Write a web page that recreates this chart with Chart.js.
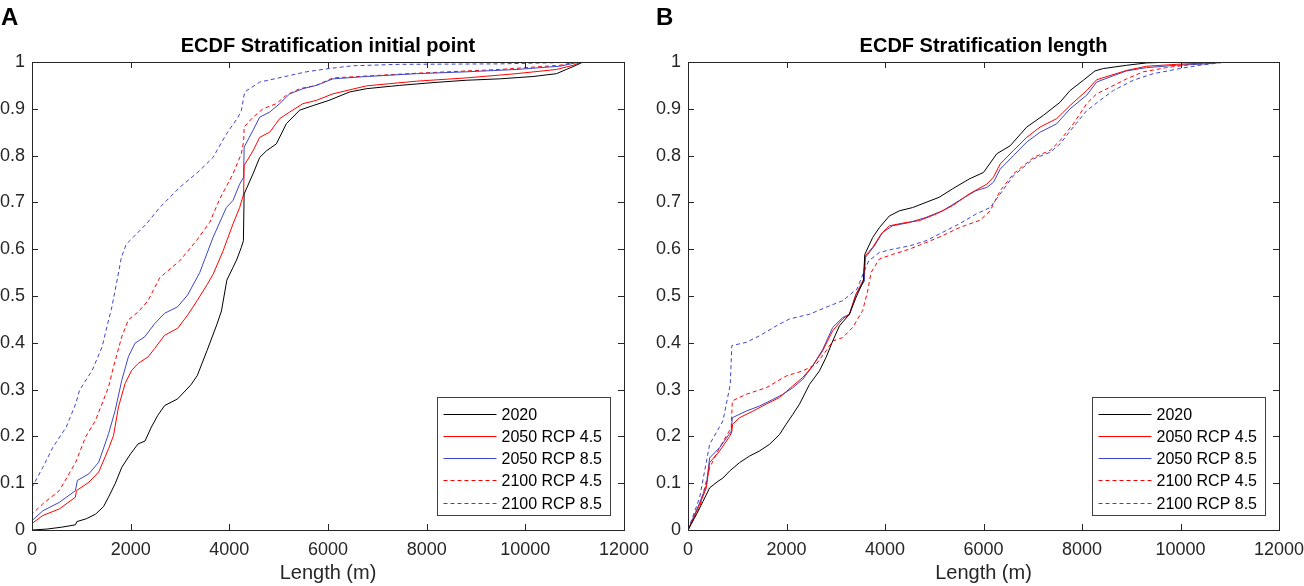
<!DOCTYPE html>
<html>
<head>
<meta charset="utf-8">
<script src="https://cdn.jsdelivr.net/npm/chart.js@4.4.1/dist/chart.umd.min.js"></script>
<style>
  body { margin: 0; background: #fff; }
  #wrap { position: relative; width: 1304px; height: 586px; }
  canvas { position: absolute; top: 0; }
  #chartA { left: 0; }
  #chartB { left: 652px; }
</style>
</head>
<body>
<div id="wrap">
  <canvas id="chartA" width="652" height="586"></canvas>
  <canvas id="chartB" width="652" height="586"></canvas>
</div>
<script>
// series names and styles
var seriesLabels = ['2020', '2050 RCP 4.5', '2050 RCP 8.5', '2100 RCP 4.5', '2100 RCP 8.5'];
var xTickLabels = ['0', '2000', '4000', '6000', '8000', '10000', '12000'];

// A: stratification initial point
var xA2020 = [0, 300, 600, 880, 910, 1100, 1290, 1450, 1550, 1690, 1820, 2000, 2150, 2290, 2420, 2550, 2690, 2950, 3220, 3350, 3550, 3750, 3840, 3950, 4074, 4155, 4243, 4285, 4300, 4480, 4615, 4750, 4953, 5155, 5425, 5700, 6020, 6440, 6780, 7450, 8130, 8800, 9480, 10155, 10630, 10830, 11030, 11170];
var yA2020 = [0, 0.002, 0.006, 0.011, 0.018, 0.024, 0.034, 0.05, 0.07, 0.1, 0.134, 0.163, 0.184, 0.19, 0.22, 0.245, 0.266, 0.28, 0.31, 0.33, 0.384, 0.44, 0.468, 0.534, 0.561, 0.579, 0.604, 0.618, 0.718, 0.761, 0.796, 0.81, 0.825, 0.868, 0.897, 0.907, 0.918, 0.936, 0.943, 0.95, 0.956, 0.961, 0.964, 0.969, 0.975, 0.984, 0.993, 1];
var xA2050a = [0, 0, 220, 553, 880, 900, 1153, 1353, 1553, 1653, 1753, 1887, 2020, 2153, 2353, 2487, 2687, 2953, 3153, 3353, 3553, 3669, 3872, 4074, 4209, 4290, 4300, 4480, 4615, 4818, 5020, 5223, 5493, 5764, 6100, 6780, 7790, 8800, 9810, 10630, 10970, 11140];
var yA2050a = [0, 0.014, 0.031, 0.045, 0.07, 0.084, 0.102, 0.124, 0.174, 0.202, 0.263, 0.313, 0.341, 0.356, 0.37, 0.388, 0.416, 0.431, 0.459, 0.491, 0.525, 0.546, 0.596, 0.654, 0.689, 0.718, 0.779, 0.81, 0.839, 0.85, 0.879, 0.893, 0.911, 0.918, 0.932, 0.949, 0.959, 0.966, 0.975, 0.984, 0.993, 1];
var xA2050b = [0, 0, 220, 553, 880, 920, 1153, 1353, 1553, 1687, 1820, 1953, 2087, 2287, 2487, 2687, 2953, 3153, 3400, 3669, 3939, 4074, 4209, 4290, 4300, 4480, 4615, 4818, 5020, 5223, 5493, 5764, 6100, 6780, 7790, 8800, 9810, 10700, 11100];
var yA2050b = [0, 0.02, 0.041, 0.059, 0.084, 0.106, 0.12, 0.145, 0.206, 0.256, 0.32, 0.37, 0.399, 0.413, 0.441, 0.463, 0.477, 0.502, 0.55, 0.625, 0.689, 0.704, 0.739, 0.754, 0.818, 0.854, 0.882, 0.893, 0.911, 0.932, 0.943, 0.95, 0.964, 0.969, 0.975, 0.979, 0.984, 0.991, 1];
var xA2100a = [0, 0, 220, 553, 887, 1087, 1287, 1553, 1653, 1820, 1953, 2153, 2353, 2588, 2993, 3331, 3601, 3804, 4074, 4243, 4290, 4300, 4480, 4682, 4953, 5155, 5425, 5764, 6100, 7790, 9480, 10700, 11030];
var yA2100a = [0, 0.034, 0.056, 0.084, 0.145, 0.199, 0.234, 0.306, 0.349, 0.413, 0.449, 0.466, 0.49, 0.539, 0.575, 0.618, 0.657, 0.707, 0.761, 0.804, 0.83, 0.861, 0.882, 0.9, 0.911, 0.929, 0.943, 0.95, 0.966, 0.976, 0.984, 0.993, 1];
var xA2100b = [0, 0, 220, 425, 695, 887, 965, 1220, 1420, 1553, 1608, 1709, 1811, 1912, 2047, 2318, 2588, 2993, 3399, 3669, 3939, 4176, 4243, 4311, 4615, 5088, 5561, 6020, 6500, 7450, 9480, 10830, 11100];
var yA2100b = [0, 0.091, 0.134, 0.177, 0.22, 0.27, 0.299, 0.341, 0.391, 0.449, 0.471, 0.525, 0.582, 0.611, 0.625, 0.654, 0.689, 0.732, 0.768, 0.796, 0.846, 0.882, 0.896, 0.936, 0.957, 0.968, 0.979, 0.986, 0.992, 0.995, 0.996, 0.999, 1];

// B: stratification length
var xB2020 = [0, 169, 304, 439, 608, 709, 845, 1047, 1250, 1453, 1655, 1858, 1993, 2128, 2264, 2466, 2669, 2804, 2939, 3074, 3277, 3412, 3561, 3590, 3750, 3885, 4088, 4291, 4561, 4831, 5101, 5372, 5709, 6000, 6270, 6541, 6878, 7216, 7554, 7757, 8027, 8264, 8432, 8905, 9311, 9851];
var yB2020 = [0, 0.033, 0.061, 0.09, 0.104, 0.111, 0.126, 0.144, 0.158, 0.169, 0.183, 0.204, 0.226, 0.247, 0.269, 0.311, 0.34, 0.369, 0.404, 0.436, 0.461, 0.497, 0.532, 0.589, 0.625, 0.646, 0.671, 0.682, 0.689, 0.7, 0.711, 0.729, 0.75, 0.764, 0.804, 0.821, 0.861, 0.886, 0.914, 0.939, 0.961, 0.981, 0.986, 0.993, 0.998, 1];
var xB2050a = [0, 236, 372, 439, 642, 845, 890, 905, 1047, 1318, 1588, 1858, 2128, 2331, 2534, 2736, 2939, 3142, 3277, 3412, 3561, 3600, 3750, 3919, 4088, 4426, 4696, 5034, 5372, 5709, 6068, 6203, 6338, 6608, 6878, 7149, 7487, 7757, 8095, 8297, 8568, 8905, 9311, 9919, 10527, 10865];
var yB2050a = [0, 0.054, 0.09, 0.144, 0.169, 0.2, 0.21, 0.226, 0.24, 0.254, 0.269, 0.283, 0.308, 0.326, 0.351, 0.383, 0.426, 0.451, 0.461, 0.504, 0.535, 0.586, 0.604, 0.632, 0.65, 0.657, 0.661, 0.675, 0.693, 0.718, 0.739, 0.754, 0.782, 0.811, 0.839, 0.861, 0.879, 0.907, 0.939, 0.962, 0.971, 0.982, 0.991, 0.995, 0.998, 1];
var xB2050b = [0, 236, 372, 439, 642, 878, 900, 1182, 1453, 1723, 1926, 2128, 2331, 2534, 2736, 2939, 3142, 3277, 3412, 3581, 3600, 3784, 3953, 4155, 4493, 4831, 5169, 5507, 5845, 6068, 6203, 6338, 6608, 6878, 7149, 7487, 7757, 8095, 8297, 8568, 8905, 9311, 9919, 10527, 10932];
var yB2050b = [0, 0.058, 0.095, 0.154, 0.176, 0.211, 0.24, 0.254, 0.265, 0.279, 0.29, 0.304, 0.322, 0.351, 0.386, 0.433, 0.454, 0.461, 0.504, 0.532, 0.582, 0.607, 0.636, 0.65, 0.657, 0.668, 0.682, 0.704, 0.725, 0.732, 0.743, 0.771, 0.8, 0.829, 0.85, 0.868, 0.9, 0.929, 0.957, 0.968, 0.981, 0.988, 0.993, 0.996, 1];
var xB2100a = [0, 236, 439, 642, 878, 900, 1182, 1588, 1993, 2331, 2601, 2804, 2939, 3142, 3345, 3547, 3649, 3716, 3885, 4155, 4493, 4831, 5169, 5507, 5932, 6135, 6338, 6608, 7014, 7351, 7554, 7824, 8095, 8297, 8568, 8905, 9243, 9716, 10257, 10662, 10932];
var yB2100a = [0, 0.047, 0.133, 0.176, 0.219, 0.276, 0.29, 0.304, 0.329, 0.34, 0.354, 0.383, 0.404, 0.411, 0.433, 0.469, 0.511, 0.55, 0.579, 0.589, 0.6, 0.614, 0.629, 0.646, 0.662, 0.682, 0.725, 0.761, 0.796, 0.811, 0.832, 0.868, 0.911, 0.932, 0.946, 0.964, 0.979, 0.988, 0.995, 0.998, 1];
var xB2100b = [0, 236, 439, 709, 858, 890, 1182, 1453, 1791, 2061, 2466, 2804, 3142, 3432, 3581, 3669, 3885, 4155, 4493, 4831, 5169, 5507, 5845, 6135, 6338, 6608, 7014, 7351, 7554, 7824, 8095, 8365, 8635, 9041, 9446, 9986, 10392, 10932];
var yB2100b = [0, 0.069, 0.183, 0.233, 0.311, 0.394, 0.401, 0.415, 0.436, 0.451, 0.461, 0.476, 0.49, 0.515, 0.554, 0.575, 0.593, 0.6, 0.607, 0.618, 0.636, 0.654, 0.675, 0.689, 0.718, 0.757, 0.793, 0.807, 0.825, 0.861, 0.896, 0.918, 0.939, 0.961, 0.975, 0.986, 0.993, 1];

var FONT = "'Liberation Sans', Arial, Helvetica, sans-serif";
var AXIS = '#262626';
var RED = '#ff0000';
var BLUE = '#3c46c8';
var styles = [
  { color: '#000000', dash: [] },
  { color: RED, dash: [] },
  { color: BLUE, dash: [] },
  { color: RED, dash: [4, 3] },
  { color: BLUE, dash: [4, 3] }
];

function pts(xs, ys) {
  return xs.map(function(x, i) { return { x: x, y: ys[i] }; });
}

// matlab style box, inward ticks, letter and legend
var matlabBox = {
  id: 'matlabBox',
  afterDraw: function(chart, args, opts) {
    var ctx = chart.ctx, ca = chart.chartArea;
    var xs = chart.scales.x, ys = chart.scales.y;
    ctx.save();
    ctx.strokeStyle = AXIS;
    ctx.lineWidth = 1;
    ctx.strokeRect(Math.round(ca.left) + 0.5, Math.round(ca.top) + 0.5,
                   Math.round(ca.right - ca.left), Math.round(ca.bottom - ca.top));
    ctx.beginPath();
    xs.ticks.forEach(function(t) {
      var px = Math.round(xs.getPixelForValue(t.value)) + 0.5;
      ctx.moveTo(px, ca.bottom); ctx.lineTo(px, ca.bottom - 6);
      ctx.moveTo(px, ca.top); ctx.lineTo(px, ca.top + 6);
    });
    ys.ticks.forEach(function(t) {
      var py = Math.round(ys.getPixelForValue(t.value)) + 0.5;
      ctx.moveTo(ca.left, py); ctx.lineTo(ca.left + 6, py);
      ctx.moveTo(ca.right, py); ctx.lineTo(ca.right - 6, py);
    });
    ctx.stroke();

    // panel letter
    ctx.fillStyle = '#000';
    ctx.font = 'bold 24px ' + FONT;
    ctx.textBaseline = 'alphabetic';
    ctx.textAlign = 'left';
    ctx.fillText(opts.letter, opts.letterX, 25);

    // legend box
    var w = 173, h = 118;
    var bx = Math.round(ca.right - 14 - w) + 0.5, by = Math.round(ca.bottom - 15 - h) + 0.5;
    ctx.fillStyle = '#fff';
    ctx.fillRect(bx, by, w, h);
    ctx.strokeStyle = '#404040';
    ctx.strokeRect(bx, by, w, h);
    ctx.font = '16px ' + FONT;
    ctx.textBaseline = 'middle';
    chart.data.datasets.forEach(function(ds, i) {
      var cy = Math.round(by + 16 + i * 22.3) + 0.5;
      ctx.strokeStyle = ds.borderColor;
      ctx.setLineDash(ds.borderDash || []);
      ctx.beginPath();
      ctx.moveTo(bx + 6, cy); ctx.lineTo(bx + 59, cy);
      ctx.stroke();
      ctx.setLineDash([]);
      ctx.fillStyle = '#000';
      ctx.fillText(ds.label, bx + 64, cy + 1);
    });
    ctx.restore();
  }
};

function makeChart(id, title, letter, letterX, yWidth, padRight, series) {
  var ctx = document.getElementById(id).getContext('2d');
  return new Chart(ctx, {
    type: 'line',
    data: {
      datasets: series.map(function(s, i) {
        return {
          label: seriesLabels[i],
          data: pts(s[0], s[1]),
          borderColor: styles[i].color,
          borderDash: styles[i].dash,
          borderWidth: 1,
          pointRadius: 0,
          tension: 0,
          fill: false
        };
      })
    },
    options: {
      responsive: false,
      animation: false,
      layout: { padding: { left: 0, right: padRight, top: 0, bottom: 0 } },
      plugins: {
        legend: { display: false },
        tooltip: { enabled: false },
        title: {
          display: true,
          text: title,
          color: '#000',
          fullSize: false,
          font: { family: FONT, size: 20, weight: 'bold' },
          padding: { top: 34, bottom: 4 }
        },
        matlabBox: { letter: letter, letterX: letterX }
      },
      scales: {
        x: {
          type: 'linear',
          min: 0, max: 12000,
          grid: { display: false, drawTicks: false },
          border: { display: false },
          ticks: {
            stepSize: 2000,
            color: AXIS,
            padding: 9,
            maxRotation: 0,
            font: { family: FONT, size: 18 },
            callback: function(v) { return xTickLabels[Math.round(v / 2000)]; }
          },
          title: {
            display: true,
            text: 'Length (m)',
            color: AXIS,
            font: { family: FONT, size: 20 },
            padding: { top: 0, bottom: 1 }
          },
          afterFit: function(s) { s.height = 56; s.paddingLeft = 0; s.paddingRight = 0; }
        },
        y: {
          min: 0, max: 1,
          grid: { display: false, drawTicks: false },
          border: { display: false },
          ticks: {
            stepSize: 0.1,
            color: AXIS,
            padding: 7,
            font: { family: FONT, size: 18 },
            callback: function(v) { return String(Math.round(v * 10) / 10); }
          },
          afterFit: function(s) { s.width = yWidth; }
        }
      }
    },
    plugins: [matlabBox]
  });
}

makeChart('chartA', 'ECDF Stratification initial point', 'A', 1, 32, 28, [
  [xA2020, yA2020], [xA2050a, yA2050a], [xA2050b, yA2050b], [xA2100a, yA2100a], [xA2100b, yA2100b]
]);
makeChart('chartB', 'ECDF Stratification length', 'B', 4, 36, 25, [
  [xB2020, yB2020], [xB2050a, yB2050a], [xB2050b, yB2050b], [xB2100a, yB2100a], [xB2100b, yB2100b]
]);
</script>
</body>
</html>
